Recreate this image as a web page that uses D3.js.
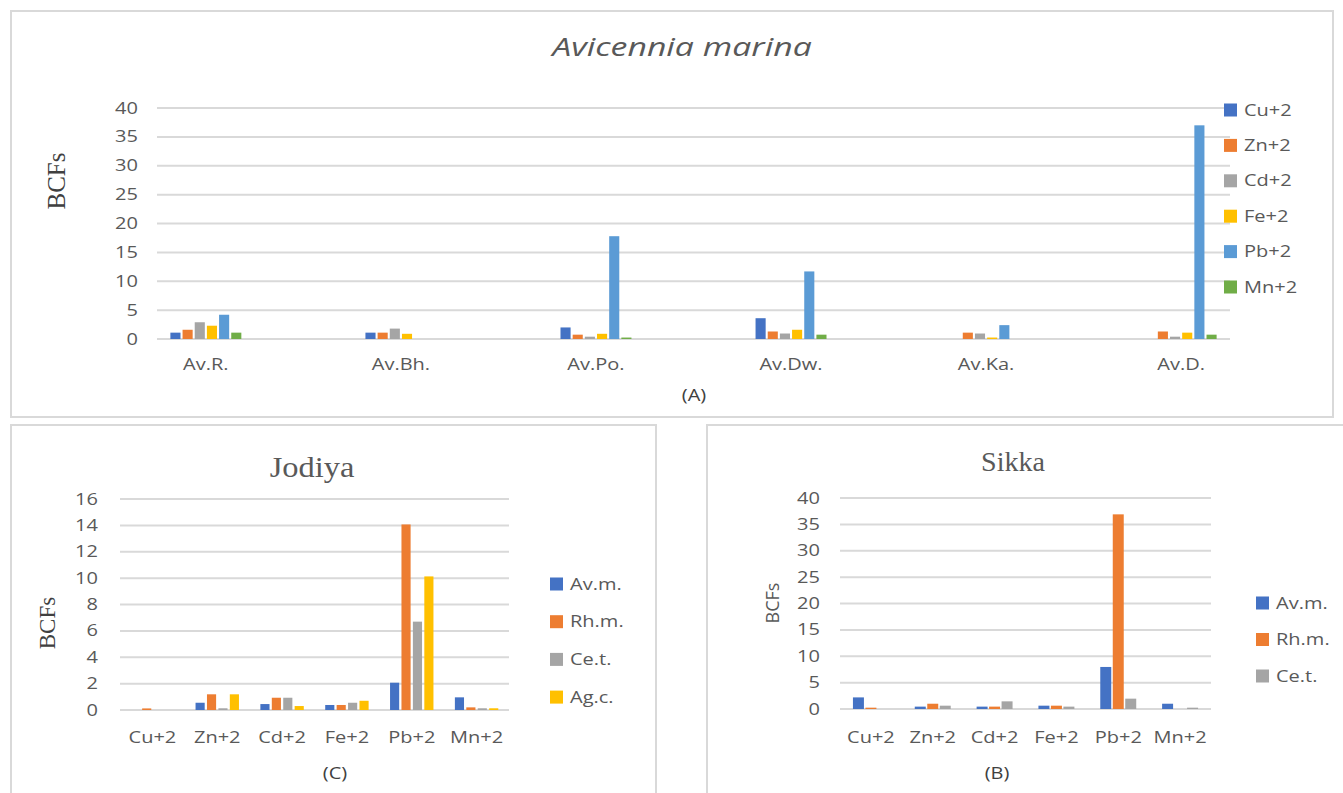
<!DOCTYPE html>
<html><head><meta charset="utf-8">
<script src="https://cdn.jsdelivr.net/npm/d3@7"></script>
<style>body{margin:0;background:#fff;}svg{display:block;}</style>
</head><body>
<svg id="c" width="1343" height="793"></svg>
<script>
// ---- Data ----
const sitesA = ["Av.R.", "Av.Bh.", "Av.Po.", "Av.Dw.", "Av.Ka.", "Av.D."];
const metalsA = ["Cu+2", "Zn+2", "Cd+2", "Fe+2", "Pb+2", "Mn+2"];
const cuA = [1.1, 1.1, 2.0, 3.6, 0, 0];
const znA = [1.6, 1.1, 0.75, 1.3, 1.1, 1.3];
const cdA = [2.9, 1.8, 0.4, 0.95, 0.95, 0.4];
const feA = [2.3, 0.9, 0.9, 1.6, 0.25, 1.1];
const pbA = [4.2, 0, 17.8, 11.7, 2.4, 37];
const mnA = [1.1, 0, 0.25, 0.75, 0, 0.75];
const ticksA = [0, 5, 10, 15, 20, 25, 30, 35, 40];

const metals = ["Cu+2", "Zn+2", "Cd+2", "Fe+2", "Pb+2", "Mn+2"];
const speciesC = ["Av.m.", "Rh.m.", "Ce.t.", "Ag.c."];
const avmC = [0, 0.55, 0.45, 0.38, 2.07, 0.96];
const rhmC = [0.12, 1.19, 0.93, 0.38, 14.07, 0.2];
const cetC = [0, 0.13, 0.93, 0.55, 6.7, 0.13];
const agcC = [0, 1.19, 0.3, 0.7, 10.13, 0.13];
const ticksC = [0, 2, 4, 6, 8, 10, 12, 14, 16];

const speciesB = ["Av.m.", "Rh.m.", "Ce.t."];
const avmB = [2.2, 0.45, 0.45, 0.63, 7.97, 1.0];
const rhmB = [0.25, 1.0, 0.45, 0.63, 36.9, 0];
const cetB = [0, 0.63, 1.45, 0.45, 1.96, 0.25];
const ticksB = [0, 5, 10, 15, 20, 25, 30, 35, 40];

const colors6 = ["#4472C4", "#ED7D31", "#A5A5A5", "#FFC000", "#5B9BD5", "#70AD47"];
const TXT = "#595959", GRID = "#D9D9D9";
const SANS = "'Open Sans', 'DejaVu Sans', sans-serif";
const SERIF = "'Liberation Serif', 'DejaVu Serif', serif";
const SX = 1.25; // horizontal stretch of the sans text seen in the reference

const svg = d3.select("#c");

function panel(x, y, w, h) {
  svg.append("rect").attr("x", x).attr("y", y).attr("width", w).attr("height", h)
    .attr("fill", "none").attr("stroke", GRID).attr("stroke-width", 2);
}
panel(11, 11, 1322, 406);
panel(11, 425, 645, 380);
panel(707, 425, 640, 380);

function label(parent, x, y, txt, o) {
  const t = parent.append("text")
    .attr("transform", `translate(${x},${y}) scale(${o.sx || 1},1)`)
    .attr("text-anchor", o.anchor || "middle")
    .attr("fill", o.fill || TXT).attr("font-family", o.font || SANS)
    .attr("font-size", o.size).attr("font-style", o.style || "normal")
    .text(txt);
  if (o.dy) t.attr("dy", o.dy);
  return t;
}

function chart(o) {
  const g = svg.append("g");
  const x0 = d3.scaleBand().domain(o.cats).range(o.xr).paddingInner(o.pi).paddingOuter(o.po);
  const x1 = d3.scaleBand().domain(o.series).range([0, x0.bandwidth()]).padding(o.ip);
  const y = d3.scaleLinear().domain([0, o.ymax]).range(o.yr);
  g.append("g").selectAll("line").data(o.ticks).join("line")
    .attr("x1", o.xr[0]).attr("x2", o.xr[1])
    .attr("y1", d => y(d)).attr("y2", d => y(d))
    .attr("stroke", GRID).attr("stroke-width", 2);
  const ya = d3.axisLeft(y).tickValues(o.ticks).tickSize(0).tickPadding(0);
  const yg = g.append("g").attr("transform", `translate(${o.ylabX},0)`).call(ya);
  yg.select(".domain").remove();
  yg.selectAll("text").attr("fill", TXT).attr("font-family", SANS).attr("font-size", o.fs)
    .attr("transform", `scale(${SX},1)`);
  const rows = o.cats.map((c, i) => ({c, vals: o.data.map(arr => arr[i])}));
  g.append("g").selectAll("g").data(rows).join("g")
    .attr("transform", d => `translate(${x0(d.c)},0)`)
    .selectAll("rect").data(d => d.vals.map((v, j) => ({s: o.series[j], v, j})))
    .join("rect")
    .attr("x", d => x1(d.s)).attr("width", x1.bandwidth())
    .attr("y", d => y(d.v)).attr("height", d => y(0) - y(d.v))
    .attr("fill", d => o.colors[d.j]);
  const xa = d3.axisBottom(x0).tickSize(0).tickPadding(0);
  const xg = g.append("g").attr("transform", `translate(0,${o.xlabY})`).call(xa);
  xg.select(".domain").remove();
  xg.selectAll("text").attr("fill", TXT).attr("font-family", SANS).attr("font-size", o.fs)
    .attr("dy", "0").attr("transform", `scale(${SX},1)`);
  const lg = g.append("g").selectAll("g").data(o.series).join("g")
    .attr("transform", (d, i) => `translate(${o.legX},${o.legY + i * o.legDy})`);
  lg.append("rect").attr("x", 0).attr("y", -6.5).attr("width", 13).attr("height", 13)
    .attr("fill", (d, i) => o.colors[i]);
  lg.each(function(d) {
    label(d3.select(this), 20, 0, d, {anchor: "start", size: o.lfs, sx: SX, dy: "0.35em"});
  });
  label(g, o.titleX, o.titleY, o.title,
    {font: o.titleFont, style: o.titleStyle, size: o.titleSize, sx: o.titleSx || 1});
  g.append("text").attr("transform", `translate(${o.ytX},${o.ytY}) rotate(-90)`)
    .attr("text-anchor", "middle").attr("dy", "0.35em")
    .attr("fill", o.ytColor).attr("font-family", o.ytFont).attr("font-size", o.ytSize).text("BCFs");
  label(g, o.capX, o.capY, o.cap, {size: 16, sx: SX, fill: "#404040"});
}

chart({
  cats: sitesA, series: metalsA, data: [cuA, znA, cdA, feA, pbA, mnA], colors: colors6,
  xr: [157, 1230], pi: 0.615, po: 0.058, ip: 0.17,
  ymax: 40, yr: [339, 108], ticks: ticksA, ylabX: 138, fs: 16,
  xlabY: 370, legX: 1224, legY: 110, legDy: 35.4, lfs: 16,
  title: "Avicennia marina", titleX: 682, titleY: 56, titleFont: SANS, titleStyle: "italic",
  titleSize: 26, titleSx: 1.3,
  ytX: 56, ytY: 181, ytFont: SERIF, ytSize: 25, ytColor: "#404040",
  cap: "(A)", capX: 694, capY: 401
});

chart({
  cats: metals, series: speciesC, data: [avmC, rhmC, cetC, agcC], colors: colors6,
  xr: [120, 509], pi: 0.26, po: 0.13, ip: 0.2,
  ymax: 16, yr: [710, 499], ticks: ticksC, ylabX: 98, fs: 16,
  xlabY: 743, legX: 550, legY: 584, legDy: 37.7, lfs: 16,
  title: "Jodiya", titleX: 312, titleY: 477, titleFont: SERIF, titleSize: 29, titleSx: 1.12,
  ytX: 47, ytY: 623, ytFont: SERIF, ytSize: 23, ytColor: "#404040",
  cap: "(C)", capX: 335, capY: 779
});

chart({
  cats: metals, series: speciesB, data: [avmB, rhmB, cetB], colors: colors6,
  xr: [840, 1211], pi: 0.37, po: 0.185, ip: 0.12,
  ymax: 40, yr: [709, 498], ticks: ticksB, ylabX: 820, fs: 16,
  xlabY: 743, legX: 1256, legY: 603, legDy: 36.5, lfs: 16,
  title: "Sikka", titleX: 1013, titleY: 471, titleFont: SERIF, titleSize: 28,
  ytX: 773, ytY: 603, ytFont: SANS, ytSize: 18, ytColor: TXT,
  cap: "(B)", capX: 997, capY: 779
});
</script>
</body></html>
